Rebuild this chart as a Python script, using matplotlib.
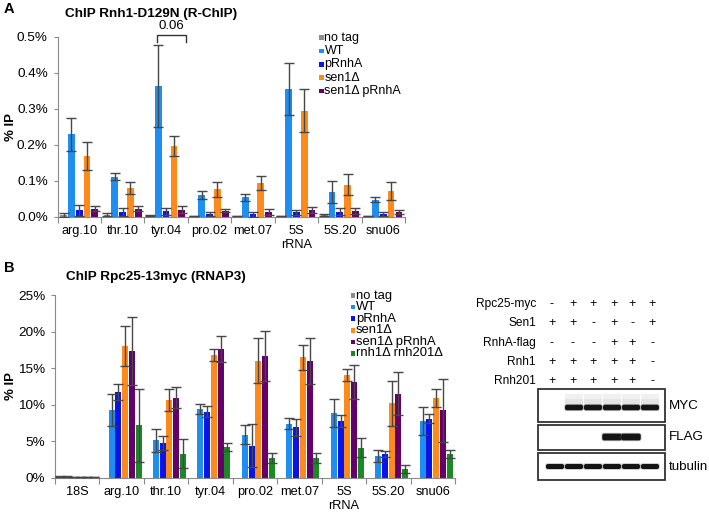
import matplotlib
matplotlib.use('Agg')
import matplotlib.pyplot as plt
import numpy as np
from matplotlib.patches import Rectangle, FancyBboxPatch

plt.rcParams['font.family'] = ['Liberation Sans', 'DejaVu Sans']

W, H = 709, 515

# ---- panel A: ChIP Rnh1-D129N, % IP ----
cats_a = ['arg.10', 'thr.10', 'tyr.04', 'pro.02', 'met.07', '5S\nrRNA', '5S.20', 'snu06']
labels_a = ['no tag', 'WT', 'pRnhA', 'sen1Δ', 'sen1Δ pRnhA']
notag_a = [0.005, 0.006, 0.003, 0.002, 0.002, 0.002, 0.004, 0.002]
notag_a_err = [0.005, 0.004, 0.001, 0.001, 0.001, 0.001, 0.003, 0.001]
wt_a = [0.229, 0.111, 0.363, 0.060, 0.054, 0.354, 0.068, 0.047]
wt_a_err = [0.046, 0.009, 0.114, 0.010, 0.009, 0.072, 0.030, 0.007]
prnha_a = [0.018, 0.013, 0.015, 0.007, 0.007, 0.012, 0.014, 0.008]
prnha_a_err = [0.015, 0.010, 0.010, 0.005, 0.007, 0.008, 0.009, 0.006]
sen1_a = [0.168, 0.080, 0.197, 0.076, 0.093, 0.294, 0.089, 0.070]
sen1_a_err = [0.039, 0.017, 0.028, 0.020, 0.019, 0.060, 0.030, 0.025]
sen1p_a = [0.022, 0.022, 0.020, 0.017, 0.013, 0.018, 0.016, 0.013]
sen1p_a_err = [0.007, 0.007, 0.010, 0.004, 0.008, 0.009, 0.009, 0.005]
yticks_a = [0.0, 0.1, 0.2, 0.3, 0.4, 0.5]
ytick_labels_a = ['0.0%', '0.1%', '0.2%', '0.3%', '0.4%', '0.5%']

# ---- panel B: ChIP Rpc25-13myc, % IP ----
cats_b = ['18S', 'arg.10', 'thr.10', 'tyr.04', 'pro.02', 'met.07', '5S\nrRNA', '5S.20', 'snu06']
labels_b = ['no tag', 'WT', 'pRnhA', 'sen1Δ', 'sen1Δ pRnhA', 'rnh1Δ rnh201Δ']
notag_b = [0.15, 0, 0, 0, 0, 0, 0, 0, 0]
notag_b_err = [0.04, 0, 0, 0, 0, 0, 0, 0, 0]
wt_b = [0.15, 9.3, 5.1, 9.45, 5.9, 7.4, 8.9, 2.95, 7.8]
wt_b_err = [0.04, 2.2, 1.6, 0.7, 1.3, 0.8, 1.9, 0.8, 1.9]
prnha_b = [0.1, 11.7, 4.8, 9.05, 4.4, 6.9, 7.8, 3.2, 8.1]
prnha_b_err = [0.03, 1.1, 0.95, 0.7, 2.9, 1.2, 0.8, 0.4, 0.6]
sen1_b = [0.1, 18.0, 10.6, 16.8, 16.0, 16.45, 14.1, 10.2, 10.9]
sen1_b_err = [0.03, 2.7, 1.5, 0.8, 3.1, 1.65, 0.8, 3.1, 1.25]
sen1p_b = [0.1, 17.4, 10.95, 17.6, 16.7, 15.95, 13.1, 11.5, 9.2]
sen1p_b_err = [0.03, 4.65, 1.4, 1.8, 3.4, 3.1, 2.35, 2.9, 4.25]
rnh_b = [0.1, 7.2, 3.3, 4.2, 2.65, 2.65, 4.1, 1.2, 3.2]
rnh_b_err = [0.03, 5.0, 2.0, 0.55, 0.7, 0.7, 1.3, 0.5, 0.55]
yticks_b = [0, 5, 10, 15, 20, 25]
ytick_labels_b = ['0%', '5%', '10%', '15%', '20%', '25%']

# ---- western blot ----
blot_rows = ['Rpc25-myc', 'Sen1', 'RnhA-flag', 'Rnh1', 'Rnh201']
blot_signs = [['-', '+', '+', '+', '+', '+'],
              ['+', '+', '-', '+', '-', '+'],
              ['-', '-', '-', '+', '+', '-'],
              ['+', '+', '+', '+', '+', '-'],
              ['+', '+', '+', '+', '+', '-']]
blot_names = ['MYC', 'FLAG', 'tubulin']
myc_bands = [0, 1, 1, 1, 1, 1]
flag_bands = [0, 0, 0, 1, 1, 0]
tub_bands = [1, 1, 1, 1, 1, 1]

col = ['#8c8c8c', '#1f8ef1', '#0a14e6', '#ff8a1c', '#64006a', '#1a8a24']
axis_col = '#8a8a8a'

fig = plt.figure(figsize=(W / 100, H / 100), dpi=100)


def px_axes(x0, y0, x1, y1):
    return fig.add_axes([x0 / W, 1 - y1 / H, (x1 - x0) / W, (y1 - y0) / H])


def bar_panel(ax, cats, vals, errs, pitch, width, yt, ytl):
    n = len(vals)
    x = np.arange(len(cats)) + 0.5
    for k in range(n):
        v = np.asarray(vals[k], float)
        e = np.asarray(errs[k], float)
        pos = x + (k - (n - 1) / 2) * pitch
        ax.bar(pos, v, width, color=col[k], zorder=2)
        m = v > 0
        ax.errorbar(pos[m], v[m], yerr=e[m], fmt='none', ecolor='#474747',
                    elinewidth=1, capsize=3.6, capthick=1, zorder=3)
    ax.set_xlim(0, len(cats))
    ax.set_ylim(yt[0], yt[-1])
    ax.set_xticks(np.arange(len(cats) + 1))
    ax.set_xticklabels([])
    ax.set_xticks(x, minor=True)
    ax.set_xticklabels(cats, minor=True)
    ax.set_yticks(yt)
    ax.set_yticklabels(ytl)
    ax.tick_params(axis='x', which='major', length=4, color=axis_col)
    ax.tick_params(axis='x', which='minor', length=0, pad=6, labelsize=9.2)
    ax.tick_params(axis='y', length=3, color=axis_col, pad=4, labelsize=9.7)
    for s in ['top', 'right']:
        ax.spines[s].set_visible(False)
    for s in ['left', 'bottom']:
        ax.spines[s].set_color(axis_col)
    ax.set_facecolor('none')


ax_a = px_axes(57.5, 36.7, 405, 216.7)
bar_panel(ax_a, cats_a,
          [notag_a, wt_a, prnha_a, sen1_a, sen1p_a],
          [notag_a_err, wt_a_err, prnha_a_err, sen1_a_err, sen1p_a_err],
          0.18, 0.155, yticks_a, ytick_labels_a)
# significance bracket over tyr.04
ax_a.plot([2.3, 2.3, 2.95, 2.95], [0.485, 0.505, 0.505, 0.485], color='#333333',
          lw=1, clip_on=False, zorder=4)
ax_a.text(2.625, 0.512, '0.06', ha='center', va='bottom', fontsize=9.5)

ax_b = px_axes(55, 295, 455, 477.7)
bar_panel(ax_b, cats_b,
          [notag_b, wt_b, prnha_b, sen1_b, sen1p_b, rnh_b],
          [notag_b_err, wt_b_err, prnha_b_err, sen1_b_err, sen1p_b_err, rnh_b_err],
          0.152, 0.135, yticks_b, ytick_labels_b)

# overlay in pixel coordinates for labels, legends and the blot
ov = fig.add_axes([0, 0, 1, 1], zorder=5)
ov.set_xlim(0, W)
ov.set_ylim(H, 0)
ov.axis('off')
ov.patch.set_alpha(0)

ov.text(4, 9, 'A', fontsize=10.5, fontweight='bold', va='center')
ov.text(65, 13.5, 'ChIP Rnh1-D129N (R-ChIP)', fontsize=9.7, fontweight='bold', va='center')
ov.text(4, 268, 'B', fontsize=10.5, fontweight='bold', va='center')
ov.text(66, 277, 'ChIP Rpc25-13myc (RNAP3)', fontsize=9.7, fontweight='bold', va='center')
ov.text(11, 126.7, '% IP', fontsize=9.5, fontweight='bold', rotation=90, ha='center', va='center')
ov.text(11, 386, '% IP', fontsize=9.5, fontweight='bold', rotation=90, ha='center', va='center')


def legend(x, y0, dy, labels, fs):
    for i, lab in enumerate(labels):
        y = y0 + i * dy
        ov.add_patch(Rectangle((x, y - 2.3), 4.6, 4.6, color=col[i], lw=0))
        ov.text(x + 5.5, y, lab, fontsize=fs, va='center')


legend(319, 37.5, 13.4, labels_a, 9)
legend(350.5, 295.5, 11.6, labels_b, 9.4)

# blot table
sign_x = [552, 572.7, 593.3, 614, 632.3, 652.3]
lane_x = [555, 574, 593, 612, 631, 650]
row_y = [304.3, 323.3, 342.7, 361.7, 380.7]
for r, lab in enumerate(blot_rows):
    ov.text(536, row_y[r], lab, fontsize=8.6, ha='right', va='center')
    for j, s in enumerate(blot_signs[r]):
        ov.text(sign_x[j], row_y[r], s, fontsize=9, ha='center', va='center')

boxes = [(389.3, 422), (425.3, 449.5), (452.7, 480.3)]
band_y = [407.5, 437, 466.5]
band_h = [5.5, 6.8, 5.0]
band_w = [18, 19.5, 18]
for b, (y0, y1) in enumerate(boxes):
    ov.add_patch(Rectangle((538.3, y0), 665 - 538.3, y1 - y0, fill=False,
                           ec='#333333', lw=1.3))
    ov.text(669, (y0 + y1) / 2, blot_names[b], fontsize=9.6, va='center')
    bands = [myc_bands, flag_bands, tub_bands][b]
    for j, on in enumerate(bands):
        if not on:
            continue
        cx = lane_x[j]
        if b == 0:
            ov.add_patch(Rectangle((cx - 9, 393.5), 18, 11, color='#f0f0f0', lw=0))
            ov.add_patch(Rectangle((cx - 9, 398.5), 18, 5.5, color='#e4e4e4', lw=0))
        ov.add_patch(FancyBboxPatch((cx - band_w[b] / 2 - 0.8, band_y[b] - band_h[b] / 2 - 0.8),
                                    band_w[b] + 1.6, band_h[b] + 1.6,
                                    boxstyle='round,pad=0,rounding_size=2.5',
                                    color='#555555', alpha=0.35, lw=0))
        ov.add_patch(FancyBboxPatch((cx - band_w[b] / 2, band_y[b] - band_h[b] / 2),
                                    band_w[b], band_h[b],
                                    boxstyle='round,pad=0,rounding_size=2',
                                    color='#141414', lw=0))

fig.savefig('out.png', dpi=100)
